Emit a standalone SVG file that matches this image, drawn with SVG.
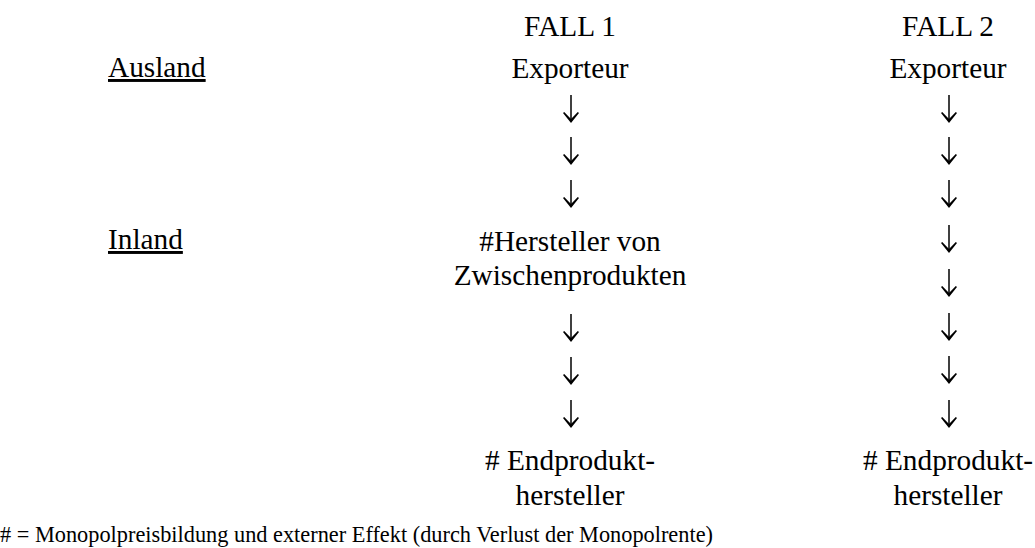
<svg xmlns="http://www.w3.org/2000/svg" width="1035" height="548" viewBox="0 0 1035 548">
<style>
text{font-family:"Liberation Serif","Times New Roman",serif;fill:#000}
.t{font-size:29.3px;text-anchor:middle}
.l{font-size:29.3px;text-decoration:underline}
.f{font-size:22.3px}
</style>
<defs>
<g id="a">
<line x1="0" y1="-28" x2="0" y2="-2" stroke="#000" stroke-width="1.5"/>
<path d="M-8,-10 L0,0 L8,-10 L6.8,-11 L0,-4 L-6.8,-11 Z" fill="#000"/>
</g>
</defs>
<rect width="1035" height="548" fill="#fff"/>
<g id="labels">
<text class="l" x="108" y="77">Ausland</text>
<text class="l" x="108" y="249">Inland</text>
</g>
<g id="fall1-head"><text class="t" x="570" y="36">FALL 1</text></g>
<g id="fall2-head"><text class="t" x="948" y="36">FALL 2</text></g>
<g id="exporteur1"><text class="t" x="570" y="78">Exporteur</text></g>
<g id="exporteur2"><text class="t" x="948" y="78">Exporteur</text></g>
<g id="zwischen1"><text class="t" x="570" y="251">#Hersteller von</text><text class="t" x="570" y="285">Zwischenprodukten</text></g>
<g id="end1"><text class="t" x="570" y="470"># Endprodukt-</text><text class="t" x="570" y="505">hersteller</text></g>
<g id="end2"><text class="t" x="948" y="470"># Endprodukt-</text><text class="t" x="948" y="505">hersteller</text></g>
<g id="connectors">
<use href="#a" x="571" y="123"/>
<use href="#a" x="571" y="165"/>
<use href="#a" x="571" y="208"/>
<use href="#a" x="571" y="342"/>
<use href="#a" x="571" y="385"/>
<use href="#a" x="571" y="428"/>
<use href="#a" x="949" y="123"/>
<use href="#a" x="949" y="165"/>
<use href="#a" x="949" y="208"/>
<use href="#a" x="949" y="253"/>
<use href="#a" x="949" y="297"/>
<use href="#a" x="949" y="341"/>
<use href="#a" x="949" y="384"/>
<use href="#a" x="949" y="428"/>
</g>
<g id="footer"><text class="f" x="0" y="542" textLength="713" lengthAdjust="spacingAndGlyphs"># = Monopolpreisbildung und externer Effekt (durch Verlust der Monopolrente)</text></g>
</svg>
